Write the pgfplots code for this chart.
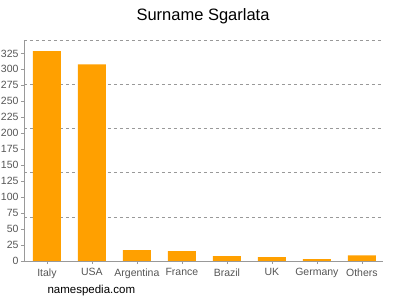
\documentclass[border=0pt]{standalone}
\usepackage{pgfplots}
\pgfplotsset{compat=1.18}
\usepackage{fontspec}
\setmainfont{Liberation Sans}
\definecolor{barorange}{HTML}{FFA000}
\definecolor{axgray}{HTML}{999999}
\definecolor{txtgray}{HTML}{555555}
\begin{document}
\begin{tikzpicture}[x=1pt,y=1pt]
\useasboundingbox (0,0) rectangle (400,300);
\begin{axis}[
  at={(24pt,39pt)}, anchor=south west,
  scale only axis, width=359pt, height=221pt,
  xmin=-0.51, xmax=7.47, ymin=0, ymax=346,
  axis lines*=left,
  axis line style={axgray},
  xtick={0,...,7},
  xticklabels={Italy,USA,Argentina,France,Brazil,UK,Germany,Others},
  ytick={0,25,...,325},
  extra y ticks={69.2,138.4,207.6,276.8,346},
  extra y tick labels={},
  extra y tick style={grid=major, major grid style={dashed, axgray, line width=0.5pt}, major tick length=0pt},
  tick style={axgray},
  major tick length=3pt,
  tick align=outside,
  ticklabel style={font=\fontsize{10.5}{12}\selectfont, text=txtgray},
  /pgf/number format/assume math mode=true,
  xticklabel style={yshift=-1pt},
  yticklabel style={xshift=1pt},
  ybar, bar width=28pt,
]
\addplot[fill=barorange, draw=none] coordinates {(0,328.5) (1,307.7) (2,17.2) (3,15.6) (4,7.8) (5,6.2) (6,3) (7,8.9)};
\end{axis}
\node[font=\fontsize{16.5}{19}\selectfont] at (203,284) {Surname Sgarlata};
\node[font=\fontsize{11.5}{13}\selectfont, anchor=west] at (44,9) {namespedia.com};
\end{tikzpicture}
\end{document}
